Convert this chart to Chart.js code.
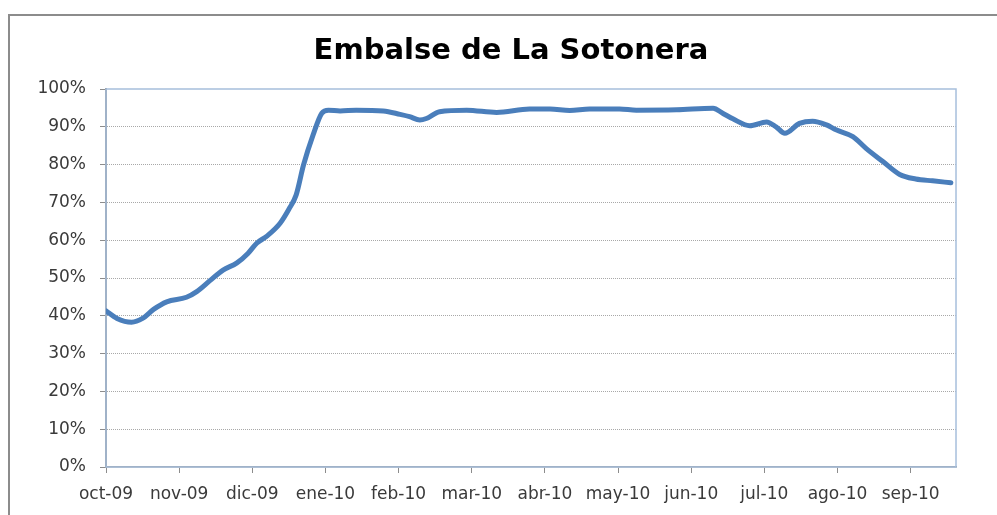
<!DOCTYPE html>
<html lang="es">
  <head>
    <meta charset="UTF-8" />
    <title>Embalse de La Sotonera</title>
    <script src="https://cdn.jsdelivr.net/npm/chart.js"></script>
    <style>
      html, body { margin: 0; padding: 0; background: #fff; }
      #marco {
        position: absolute; left: 8px; top: 14px; width: 1000px; height: 520px;
        border-top: 2px solid #8c8c8c; border-left: 2px solid #8c8c8c;
      }
      #caja { position: absolute; left: 0; top: 0; width: 997px; height: 515px; }
    </style>
  </head>
  <body>
    <div id="marco"></div>
    <div id="caja"><canvas id="grafica"></canvas></div>

    <script>
      const titulo = "Embalse de La Sotonera";

      // etiquetas del eje X (un mes por marca)
      const meses = ["oct-09", "nov-09", "dic-09", "ene-10", "feb-10", "mar-10",
                     "abr-10", "may-10", "jun-10", "jul-10", "ago-10", "sep-10"];

      // posición de cada lectura, en meses desde oct-09
      const fechaMes = [0.0, 0.15, 0.35, 0.5, 0.65, 0.83, 1.1, 1.24, 1.42, 1.6, 1.79, 1.94,
                        2.06, 2.2, 2.38, 2.5, 2.6, 2.7, 2.83, 2.95, 3.04, 3.2, 3.42, 3.79,
                        4.02, 4.15, 4.29, 4.38, 4.56, 4.93, 5.34, 5.79, 6.07, 6.34, 6.61,
                        7.02, 7.25, 7.8, 8.3, 8.43, 8.57, 8.8, 9.03, 9.16, 9.28, 9.48, 9.66,
                        9.85, 9.98, 10.21, 10.39, 10.62, 10.85, 11.07, 11.3, 11.55];

      // porcentaje de llenado del embalse
      const llenado = [41.3, 39.3, 38.3, 39.3, 41.7, 43.7, 44.9, 46.4, 49.3, 52.1, 54.0, 56.5,
                       59.2, 61.1, 64.5, 68.2, 72.0, 79.9, 87.8, 93.6, 94.4, 94.2, 94.4, 94.2,
                       93.3, 92.7, 91.8, 92.2, 94.0, 94.4, 93.8, 94.7, 94.7, 94.3, 94.7,
                       94.7, 94.4, 94.5, 94.9, 93.6, 92.1, 90.3, 91.3, 90.0, 88.3, 90.9, 91.5,
                       90.5, 89.2, 87.4, 84.3, 80.8, 77.4, 76.2, 75.7, 75.2];

      const puntos = fechaMes.map((m, i) => ({ x: m, y: llenado[i] }));

      // borde azul claro del área de trazado
      const bordeArea = {
        id: "bordeArea",
        beforeDatasetsDraw(chart) {
          const a = chart.chartArea;
          const c = chart.ctx;
          c.save();
          c.strokeStyle = "#a7bfdc";
          c.lineWidth = 1.5;
          c.strokeRect(a.left, a.top, a.right - a.left, a.bottom - a.top);
          c.restore();
        },
      };

      // título centrado sobre el marco, no sobre el área de trazado
      const tituloMarco = {
        id: "tituloMarco",
        afterDraw(chart) {
          const c = chart.ctx;
          c.save();
          c.font = "bold 29px 'DejaVu Sans'";
          c.fillStyle = "#000";
          c.textAlign = "center";
          c.textBaseline = "alphabetic";
          c.fillText(titulo, 511, 59);
          c.restore();
        },
      };

      const fuenteEjes = { family: "DejaVu Sans", size: 17 };

      const ctx = document.getElementById("grafica").getContext("2d");
      new Chart(ctx, {
        type: "line",
        data: {
          datasets: [
            {
              label: titulo,
              data: puntos,
              borderColor: "#4a7ebb",
              borderWidth: 5,
              borderCapStyle: "round",
              pointRadius: 0,
              cubicInterpolationMode: "monotone",
              fill: false,
            },
          ],
        },
        plugins: [bordeArea, tituloMarco],
        options: {
          responsive: true,
          maintainAspectRatio: false,
          animation: false,
          layout: { padding: { left: 0, right: 41, top: 89, bottom: 0 } },
          plugins: {
            legend: { display: false },
            tooltip: { enabled: false },
            title: { display: false },
          },
          scales: {
            x: {
              type: "linear",
              min: 0,
              max: 11.62,
              afterBuildTicks(axis) {
                axis.ticks = meses.map((_, i) => ({ value: i }));
              },
              afterFit(axis) { axis.height = 48; },
              ticks: {
                autoSkip: false,
                maxRotation: 0,
                padding: 11,
                color: "#3a3a3a",
                font: fuenteEjes,
                callback: (v) => meses[v],
              },
              grid: {
                drawOnChartArea: false,
                drawTicks: true,
                tickLength: 6,
                tickColor: "#8c8c8c",
              },
              border: { color: "#8c8c8c", width: 1.5 },
            },
            y: {
              min: 0,
              max: 100,
              afterFit(axis) { axis.width = 106; },
              ticks: {
                stepSize: 10,
                padding: 14,
                color: "#3a3a3a",
                font: fuenteEjes,
                callback: (v) => v + "%",
              },
              grid: {
                color: (c) => (c.tick && (c.tick.value === 0 || c.tick.value === 100)) ? "rgba(0,0,0,0)" : "#a8a8a8",
                tickColor: "#8c8c8c",
                tickLength: 6,
                lineWidth: 1,
              },
              border: { color: "#8c8c8c", width: 2, dash: [1, 1] },
            },
          },
        },
      });
    </script>
  </body>
</html>
